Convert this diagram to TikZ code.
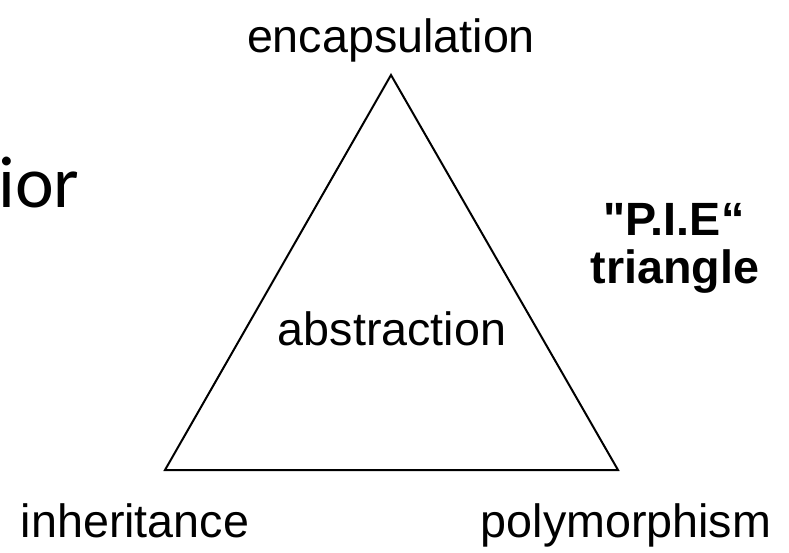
\documentclass[tikz,border=0pt]{standalone}
\usepackage{fontspec}
\setmainfont{Liberation Sans}
\newfontfamily\piefont{Liberation Sans}
\newfontfamily\calibrifont{Carlito}
\tikzset{
  cornertext/.style={inner sep=0pt, anchor=base, font=\fontsize{35}{42}\selectfont},
  boldtext/.style={cornertext, font=\piefont\fontsize{35}{42}\selectfont\bfseries},
}
\begin{document}
\begin{tikzpicture}[x=0.75pt, y=-0.75pt]
	\useasboundingbox (0,0) rectangle (789,553);
	\coordinate (apex) at (391,75); %E
	\coordinate (leftc) at (165,470); %I
	\coordinate (rightc) at (618,470); %P
	\draw [line width=1.5pt] (apex) -- (leftc) -- (rightc) -- cycle;
	\node [cornertext] (encap) at (391,52) {encapsulation};
	\node [cornertext] (abstr) at (392,345) {abstraction};
	\node [cornertext] (inher) at (135,537) {inheritance};
	\node [cornertext] (poly) at (626,537) {polymorphism};
	\node [boldtext] (pie) at (674,235) {"P.I.E“};
	\node [boldtext] (tri) at (675,283) {triangle};
	%\node (behav) ... {behavior};
	\node [inner sep=0pt, anchor=base west, font=\calibrifont\fontsize{55}{66}\selectfont] (ior) at (-2,207) {ior};
\end{tikzpicture}
\end{document}
